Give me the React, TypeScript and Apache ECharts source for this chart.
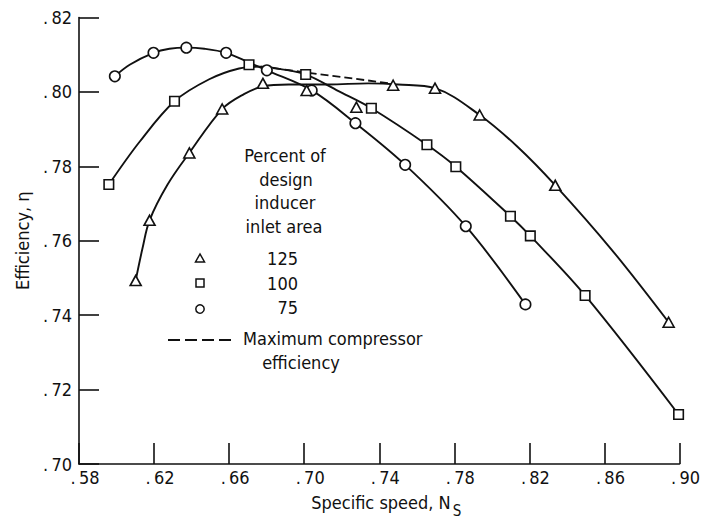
import React, { useEffect, useRef } from "react";
import * as echarts from "echarts";

// Axis ticks
const xTicks = [0.58, 0.62, 0.66, 0.7, 0.74, 0.78, 0.82, 0.86, 0.9];
const yTicks = [0.7, 0.72, 0.74, 0.76, 0.78, 0.8, 0.82];

// Measured points: 75 percent of design inducer inlet area (circles)
const ns75 = [0.5991, 0.6197, 0.6372, 0.6584, 0.6801, 0.704, 0.7273, 0.7538, 0.7861, 0.8179];
const eta75 = [0.8042, 0.8105, 0.8119, 0.8105, 0.8058, 0.8004, 0.7916, 0.7804, 0.7639, 0.7429];

// 100 percent (squares)
const ns100 = [0.5959, 0.6309, 0.6706, 0.7008, 0.7358, 0.7654, 0.7808, 0.8099, 0.8205, 0.8497, 0.8995];
const eta100 = [0.7751, 0.7975, 0.8073, 0.8047, 0.7956, 0.7858, 0.7799, 0.7666, 0.7613, 0.7453, 0.7133];

// 125 percent (triangles)
const ns125 = [0.6102, 0.6176, 0.6388, 0.6563, 0.678, 0.7013, 0.7278, 0.7474, 0.7697, 0.7935, 0.8338, 0.8942];
const eta125 = [0.7493, 0.7655, 0.7836, 0.7954, 0.8023, 0.8004, 0.7959, 0.8018, 0.801, 0.7938, 0.7749, 0.7381];

// Faired curves
const curveNs75 = [0.5991, 0.607, 0.6197, 0.6282, 0.6372, 0.6468, 0.6584, 0.6706, 0.6801, 0.704, 0.7273, 0.7538, 0.7861, 0.8179];
const curveEta75 = [0.8042, 0.8073, 0.8105, 0.8116, 0.8119, 0.8116, 0.8105, 0.8079, 0.8058, 0.8004, 0.7916, 0.7804, 0.7639, 0.7429];

const curveNs100 = [0.5959, 0.6123, 0.6309, 0.6494, 0.6653, 0.677, 0.6891, 0.7008, 0.7183, 0.7358, 0.7654, 0.7808, 0.8099, 0.8205, 0.8497, 0.8995];
const curveEta100 = [0.7751, 0.7866, 0.7975, 0.8034, 0.8063, 0.8068, 0.806, 0.8047, 0.8002, 0.7956, 0.7858, 0.7799, 0.7666, 0.7613, 0.7453, 0.7133];

const curveNs125 = [0.6102, 0.6139, 0.6176, 0.6272, 0.6388, 0.6563, 0.6679, 0.678, 0.6918, 0.713, 0.7341, 0.7501, 0.7697, 0.7935, 0.8138, 0.8338, 0.864, 0.8942];
const curveEta125 = [0.7493, 0.7581, 0.7655, 0.7751, 0.7836, 0.7954, 0.7994, 0.8015, 0.802, 0.802, 0.8023, 0.802, 0.801, 0.7938, 0.7852, 0.7749, 0.7575, 0.7381];

// Maximum compressor efficiency (dashed)
const maxNs = [0.677, 0.7458];
const maxEta = [0.8068, 0.8023];

const FONT = "'DejaVu Sans Condensed', 'DejaVu Sans', sans-serif";
const INK = "#111";

const zip = (a: number[], b: number[]) => a.map((v, i) => [v, b[i]]);

export default function App() {
  const ref = useRef<HTMLDivElement>(null);
  useEffect(() => {
    if (!ref.current) return;
    const chart = echarts.init(ref.current, undefined, { renderer: "svg" });
    const curve = (name: string, ns: number[], eta: number[]) => ({
      name,
      type: "line",
      data: zip(ns, eta),
      smooth: 0.35,
      showSymbol: false,
      symbol: "none",
      lineStyle: { color: INK, width: 1.9 },
      z: 2,
      silent: true,
    });
    const markers = (name: string, ns: number[], eta: number[], symbol: string, size: any) => ({
      name,
      type: "scatter",
      data: zip(ns, eta),
      symbol,
      symbolSize: size,
      itemStyle: { color: "#fff", borderColor: INK, borderWidth: 1.6, opacity: 1 },
      z: 5,
      silent: true,
    });
    chart.setOption({
      animation: false,
      backgroundColor: "#fff",
      textStyle: { fontFamily: FONT, color: INK },
      grid: { left: 79, right: 20, top: 17.5, bottom: 55, containLabel: false },
      xAxis: {
        type: "value",
        min: 0.58,
        max: 0.9,
        name: "{n|Specific speed, N}{s|S}",
        nameLocation: "middle",
        nameGap: 29,
        nameTextStyle: {
          fontFamily: FONT,
          fontSize: 18,
          color: INK,
          padding: [0, 0, 0, 14],
          rich: {
            n: { fontFamily: FONT, fontSize: 18, color: INK, lineHeight: 20, verticalAlign: "top" },
            s: { fontFamily: FONT, fontSize: 15, color: INK, lineHeight: 16, padding: [10, 0, 0, 2], verticalAlign: "top" },
          },
        },
        axisLine: { show: true, onZero: false, lineStyle: { color: INK, width: 1.6 } },
        axisTick: { show: true, inside: true, length: 21, customValues: xTicks, lineStyle: { color: INK, width: 1.6 } },
        axisLabel: {
          customValues: xTicks,
          formatter: (v: number) => ".\u2009" + Math.round(v * 100),
          fontFamily: FONT,
          fontSize: 18,
          color: INK,
          margin: 4,
          padding: [0, 0, 0, 12],
        },
        splitLine: { show: false },
      },
      yAxis: {
        type: "value",
        min: 0.7,
        max: 0.82,
        name: "Efficiency, \u03b7",
        nameLocation: "middle",
        nameRotate: 90,
        nameGap: 48,
        nameTextStyle: { fontFamily: FONT, fontSize: 18, color: INK },
        axisLine: { show: true, onZero: false, lineStyle: { color: INK, width: 1.6 } },
        axisTick: { show: true, inside: true, length: 20, customValues: yTicks, lineStyle: { color: INK, width: 1.6 } },
        axisLabel: {
          customValues: yTicks,
          formatter: (v: number) => ".\u2009" + Math.round(v * 100),
          fontFamily: FONT,
          fontSize: 18,
          color: INK,
          margin: 7,
        },
        splitLine: { show: false },
      },
      series: [
        curve("75 curve", curveNs75, curveEta75),
        curve("100 curve", curveNs100, curveEta100),
        curve("125 curve", curveNs125, curveEta125),
        {
          name: "Maximum compressor efficiency",
          type: "line",
          data: zip(maxNs, maxEta),
          showSymbol: false,
          symbol: "none",
          lineStyle: { color: INK, width: 1.8, type: [8, 4] },
          z: 3,
          silent: true,
        },
        markers("75", ns75, eta75, "circle", 10.5),
        markers("100", ns100, eta100, "rect", 9.5),
        markers("125", ns125, eta125, "triangle", [11, 10]),
      ],
      graphic: [
        {
          type: "group",
          silent: true,
          children: [
            { type: "text", x: 285, y: 155, style: { text: "Percent of", font: `18px ${FONT}`, fill: INK, align: "center", verticalAlign: "middle" } },
            { type: "text", x: 286, y: 179, style: { text: "design", font: `18px ${FONT}`, fill: INK, align: "center", verticalAlign: "middle" } },
            { type: "text", x: 285, y: 202, style: { text: "inducer", font: `18px ${FONT}`, fill: INK, align: "center", verticalAlign: "middle" } },
            { type: "text", x: 284, y: 226, style: { text: "inlet area", font: `18px ${FONT}`, fill: INK, align: "center", verticalAlign: "middle" } },
            { type: "polygon", shape: { points: [[200, 254], [195.5, 262], [204.5, 262]] }, style: { fill: "#fff", stroke: INK, lineWidth: 1.5 } },
            { type: "rect", shape: { x: 196, y: 279, width: 8, height: 8 }, style: { fill: "#fff", stroke: INK, lineWidth: 1.5 } },
            { type: "circle", shape: { cx: 200, cy: 309, r: 4.2 }, style: { fill: "#fff", stroke: INK, lineWidth: 1.5 } },
            { type: "text", x: 298, y: 258, style: { text: "125", font: `18px ${FONT}`, fill: INK, align: "right", verticalAlign: "middle" } },
            { type: "text", x: 298, y: 283, style: { text: "100", font: `18px ${FONT}`, fill: INK, align: "right", verticalAlign: "middle" } },
            { type: "text", x: 298, y: 307, style: { text: "75", font: `18px ${FONT}`, fill: INK, align: "right", verticalAlign: "middle" } },
            { type: "line", shape: { x1: 168, y1: 340, x2: 233, y2: 340 }, style: { stroke: INK, lineWidth: 1.8, lineDash: [12, 5] } },
            { type: "text", x: 243, y: 338, style: { text: "Maximum compressor", font: `18px ${FONT}`, fill: INK, align: "left", verticalAlign: "middle" } },
            { type: "text", x: 301, y: 362, style: { text: "efficiency", font: `18px ${FONT}`, fill: INK, align: "center", verticalAlign: "middle" } },
          ],
        },
      ],
    });
    return () => chart.dispose();
  }, []);
  return <div ref={ref} style={{ position: "fixed", left: 0, top: 0, width: 703, height: 523, background: "#fff" }} />;
}
